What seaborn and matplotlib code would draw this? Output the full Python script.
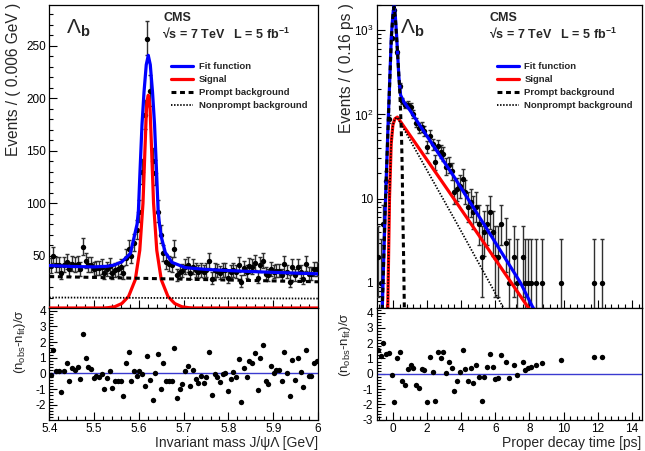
import numpy as np
import pandas as pd
import matplotlib
matplotlib.use("Agg")
import matplotlib.pyplot as plt
import seaborn as sns
from matplotlib.ticker import MultipleLocator, FixedLocator, FixedFormatter, NullFormatter
from matplotlib.lines import Line2D

sns.set_theme(style="ticks")
plt.rcParams["font.family"] = ["Liberation Sans", "DejaVu Sans"]
plt.rcParams["mathtext.fontset"] = "custom"
plt.rcParams["mathtext.rm"] = "Liberation Sans"
plt.rcParams["mathtext.it"] = "Liberation Sans:italic"
plt.rcParams["mathtext.bf"] = "Liberation Sans:bold"
plt.rcParams["axes.unicode_minus"] = False

# ---------------- left: invariant mass ----------------
mass_first_center = 5.403
mass_bin_width = 0.006
mass_counts = [40, 50, 41, 41, 33, 41, 44, 37, 42, 41,
               42, 37, 58, 45, 41, 41, 37, 38, 38, 39,
               33, 37, 40, 33, 36, 37, 39, 33, 48, 56,
               50, 62, 74, 92, 130, 184, 257, 207, 140, 129,
               92, 70, 52, 44, 42, 41, 56, 31, 34, 35,
               39, 41, 33, 39, 36, 34, 36, 34, 36, 45,
               28, 36, 35, 33, 36, 36, 29, 34, 36, 34,
               41, 25, 38, 34, 40, 39, 43, 29, 41, 45,
               32, 31, 37, 34, 35, 35, 31, 42, 34, 25,
               39, 31, 39, 34, 28, 42, 32, 32, 37, 37]
mass_pulls = [-0.1, 1.5, 0.15, 0.15, -1.2, 0.15, 0.65, -0.5, 0.35, 0.2,
              0.4, -0.35, 2.55, 1.0, 0.4, 0.3, -0.3, -0.15, -0.2, -0.05,
              -1.0, -0.3, 0.15, -0.9, -0.5, -0.45, -0.45, -1.45, 0.65, 1.4,
              -0.45, 0.15, -0.15, 0.15, -0.05, -0.8, 1.1, -0.4, -1.7, 0.0,
              1.25, -1.0, 0.7, -0.5, -0.5, -0.5, 1.6, -1.55, -1.0, -0.65,
              0.15, 0.5, -0.8, 0.25, -0.35, -0.6, -0.15, -0.6, -0.25, 1.35,
              -1.4, -0.05, -0.2, -0.55, -0.05, 0.05, -1.15, -0.35, 0.1, -0.2,
              0.9, -1.85, 0.35, -0.2, 0.8, 0.7, 1.3, -1.05, 1.0, 1.8,
              -0.5, -0.7, 0.45, 0.0, 0.2, 0.2, -0.45, 1.4, 0.05, -1.45,
              0.85, -0.4, 1.0, 0.1, -0.85, 1.5, -0.15, -0.15, 0.65, 0.8]

mass_fit_x = [5.400, 5.450, 5.500, 5.530, 5.545, 5.562, 5.581, 5.596, 5.599, 5.6025,
              5.607, 5.6115, 5.6165, 5.621, 5.6255, 5.6305, 5.635, 5.6395, 5.643, 5.646,
              5.650, 5.659, 5.674, 5.704, 5.750, 5.800, 5.850, 5.900, 5.950, 6.000]
mass_fit_y = [40.5, 39.6, 39.2, 39.8, 41, 44, 52, 80, 93, 130,
              175, 206, 232, 241, 232, 206, 175, 130, 93, 80,
              68, 53, 43.5, 38.5, 36.8, 35.7, 34.8, 34.0, 33.3, 32.6]
mass_sig_x = [5.400, 5.521, 5.531, 5.546, 5.562, 5.577, 5.592, 5.602, 5.6092, 5.6135,
              5.617, 5.619, 5.621, 5.623, 5.625, 5.6285, 5.6328, 5.640, 5.650, 5.665,
              5.680, 5.696, 5.711, 5.721, 6.000]
mass_sig_y = [0, 0, 0.3, 1.2, 4.3, 11, 27, 55, 100, 150,
              190, 199, 203, 199, 190, 150, 100, 55, 27, 11,
              4.3, 1.2, 0.3, 0, 0]
mass_prompt_x = [5.4, 6.0]
mass_prompt_y = [30, 25]
mass_nonprompt_x = [5.4, 6.0]
mass_nonprompt_y = [10, 9]

# ---------------- right: proper decay time ----------------
time_first_center = -0.88
time_bin_width = 0.16
time_counts = [2, 1, 5, 16, 89, 800, 1740, 550, 220, 145,
               130, 131, 124, 101, 80, 69, 71, 63, 41, 56,
               44, 27, 42, 36, 34, 24, 25, 21, 12, 13,
               14, 17, 12, 8, 9, 7, 8, 5, 2, 4,
               5, 7, 4, 2, 2, 5, 0, 3, 1, 0,
               2, 1, 0, 2, 1, 1, 1, 0, 1, 0,
               1, 0, 0, 0, 0, 0, 0, 1, 0, 0,
               0, 0, 0, 0, 0, 0, 0, 0, 0, 1,
               0, 0, 1]
nan = float("nan")
time_pulls = [1.55, 1.15, 2.0, 1.3, 1.35, -0.05, -1.85, 1.0, 1.45, -0.45,
              -0.7, 0.3, 0.6, 0.4, -0.7, -0.9, 0.3, 0.25, -1.85, 1.1,
              0.1, -1.75, 1.4, 1.0, 1.4, 0.05, 0.75, 0.4, -1.15, -0.5,
              0.1, 1.55, 0.3, -0.5, 0.35, -0.6, 0.6, -0.2, -1.75, -0.2,
              0.45, 1.3, 0.45, -0.35, -0.25, 1.25, nan, 0.75, -0.25, nan,
              0.55, -0.05, nan, 0.8, 0.25, 0.35, 0.45, nan, 0.6, nan,
              0.7, nan, nan, nan, nan, nan, nan, 0.9, nan, nan,
              nan, nan, nan, nan, nan, nan, nan, nan, nan, 1.1,
              nan, nan, 1.1]

time_fit_x = [-0.75, -0.62, -0.52, -0.43, -0.27, -0.09, 0.0, 0.07, 0.14, 0.22,
              0.35, 0.45, 0.64, 1.0, 1.62, 3.57, 5.52, 7.47, 8.15, 8.5]
time_fit_y = [0.3, 0.5, 2.5, 10, 89, 850, 1550, 1950, 1500, 850,
              280, 170, 141, 112, 72, 18.3, 4.3, 1.0, 0.53, 0.4]
time_prompt_x = [-0.75, -0.62, -0.52, -0.43, -0.27, -0.09, 0.0, 0.07, 0.14, 0.27,
                 0.39, 0.45, 0.51, 0.55, 0.58, 0.63, 0.67, 0.72]
time_prompt_y = [0.3, 0.5, 2.5, 10, 82, 800, 1500, 1900, 1450, 560,
                 210, 110, 50, 20, 6.8, 1.9, 0.5, 0.3]
time_sig_x = [-0.35, -0.30, -0.2, -0.1, 0.0, 0.12, 0.26, 0.45, 3.67, 7.86, 8.2]
time_sig_y = [0.3, 0.5, 10, 45, 75, 89, 93, 82, 9.3, 0.53, 0.42]
time_nonprompt_x = [-0.35, -0.30, -0.2, -0.1, 0.0, 0.12, 0.26, 3.67, 6.3, 6.6]
time_nonprompt_y = [0.3, 0.5, 10, 45, 75, 89, 92, 5.4, 0.58, 0.45]

legend_labels = ["Fit function", "Signal", "Prompt background", "Nonprompt background"]

# ---------------- figure ----------------
W, H = 645, 451
fig = plt.figure(figsize=(W / 100, H / 100), dpi=100)


def box(x0, y0, x1, y1):
    return [x0 / W, 1 - y1 / H, (x1 - x0) / W, (y1 - y0) / H]


axL = fig.add_axes(box(49.3, 5, 318, 308))
axLr = fig.add_axes(box(49.3, 308, 318, 420))
axR = fig.add_axes(box(376.5, 5, 641.5, 308))
axRr = fig.add_axes(box(376.5, 308, 641.5, 420))

BLUE = "#0000ff"
RED = "#ff0000"
PULL_LINE = "#3a3ad0"
LW = 2.3


def draw_data(ax, x, n):
    x = np.asarray(x, float)
    n = np.asarray(n, float)
    m = n > 0
    lo = np.sqrt(n[m] - 0.25)
    hi = np.sqrt(n[m] + 0.75) + 1.0
    ax.errorbar(x[m], n[m], yerr=[lo, hi], fmt="none", ecolor="#303030",
                elinewidth=1.0, capsize=1.6, capthick=1.0, zorder=3)
    sns.scatterplot(x=x[m], y=n[m], ax=ax, color="black", s=15, linewidth=0,
                    zorder=4, legend=False)


def draw_curves(ax, fx, fy, sx, sy, px_, py_, nx, ny):
    sns.lineplot(x=fx, y=fy, ax=ax, color=BLUE, linewidth=LW, estimator=None,
                 sort=False, zorder=5)
    sns.lineplot(x=sx, y=sy, ax=ax, color=RED, linewidth=LW, estimator=None,
                 sort=False, zorder=6)
    sns.lineplot(x=px_, y=py_, ax=ax, color="black", linewidth=2.2, estimator=None,
                 sort=False, zorder=7, linestyle=(0, (1.6, 1.2)))
    sns.lineplot(x=nx, y=ny, ax=ax, color="black", linewidth=1.3, estimator=None,
                 sort=False, zorder=7, linestyle=(0, (0.8, 0.9)))


def legend(ax):
    handles = [Line2D([], [], color=BLUE, lw=LW),
               Line2D([], [], color=RED, lw=LW),
               Line2D([], [], color="black", lw=2.2, linestyle=(0, (1.6, 1.2))),
               Line2D([], [], color="black", lw=1.3, linestyle=(0, (0.8, 0.9)))]
    ax.legend(handles, legend_labels, loc="upper left", bbox_to_anchor=(0.453, 0.812),
              frameon=False, prop={"size": 6.8, "weight": "bold"}, handlelength=2.35,
              handletextpad=0.6, labelspacing=0.42, borderpad=0, borderaxespad=0)


def style(ax):
    for s in ax.spines.values():
        s.set_color("black")
        s.set_linewidth(0.9)
    ax.tick_params(axis="both", which="both", direction="in", top=False, right=False,
                   colors="black", labelsize=8.5, width=0.8, pad=2.5)
    ax.tick_params(which="major", length=5.5)
    ax.tick_params(which="minor", length=2.8)
    ax.set_xlabel("")
    ax.set_ylabel("")
    ax.grid(False)
    ax.set_facecolor("white")


# left main
mass_x = mass_first_center + mass_bin_width * np.arange(len(mass_counts))
draw_data(axL, mass_x, mass_counts)
draw_curves(axL, mass_fit_x, mass_fit_y, mass_sig_x, mass_sig_y,
            mass_prompt_x, mass_prompt_y, mass_nonprompt_x, mass_nonprompt_y)
axL.set_xlim(5.4, 6.0)
axL.set_ylim(0, 289)
axL.yaxis.set_major_locator(FixedLocator([50, 100, 150, 200, 250]))
axL.yaxis.set_minor_locator(MultipleLocator(10))
axL.xaxis.set_major_locator(MultipleLocator(0.1))
axL.xaxis.set_minor_locator(MultipleLocator(0.02))
style(axL)
axL.tick_params(axis="x", labelbottom=False)
legend(axL)

# left pulls
sns.scatterplot(x=mass_x, y=mass_pulls, ax=axLr, color="black", s=15, linewidth=0,
                zorder=4, legend=False)
axLr.axhline(0, color=PULL_LINE, lw=1.0, zorder=2)
axLr.set_xlim(5.4, 6.0)
axLr.set_ylim(-2.97, 4.18)
axLr.yaxis.set_major_locator(FixedLocator([-2, -1, 0, 1, 2, 3, 4]))
axLr.yaxis.set_minor_locator(MultipleLocator(0.2))
axLr.xaxis.set_minor_locator(MultipleLocator(0.02))
style(axLr)
axLr.set_xticks([5.4, 5.5, 5.6, 5.7, 5.8, 5.9, 6.0])
axLr.set_xticklabels(["5.4", "5.5", "5.6", "5.7", "5.8", "5.9", "6"])

# right main
time_x = time_first_center + time_bin_width * np.arange(len(time_counts))
axR.set_yscale("log")
draw_data(axR, time_x, time_counts)
draw_curves(axR, time_fit_x, time_fit_y, time_sig_x, time_sig_y,
            time_prompt_x, time_prompt_y, time_nonprompt_x, time_nonprompt_y)
axR.set_xlim(-0.96, 14.56)
axR.set_ylim(0.5, 2000)
axR.yaxis.set_major_locator(FixedLocator([1, 10, 100, 1000]))
axR.yaxis.set_major_formatter(FixedFormatter(["1", "10", "10$^{2}$", "10$^{3}$"]))
minors = [m * 10 ** e for e in range(-1, 4) for m in range(2, 10)]
axR.yaxis.set_minor_locator(FixedLocator(minors))
axR.yaxis.set_minor_formatter(NullFormatter())
axR.xaxis.set_major_locator(MultipleLocator(2))
axR.xaxis.set_minor_locator(MultipleLocator(0.4))
style(axR)
axR.tick_params(axis="x", labelbottom=False)
legend(axR)

# right pulls
tm = ~np.isnan(np.asarray(time_pulls))
sns.scatterplot(x=time_x[tm], y=np.asarray(time_pulls)[tm], ax=axRr, color="black",
                s=15, linewidth=0, zorder=4, legend=False)
axRr.axhline(0, color=PULL_LINE, lw=1.0, zorder=2)
axRr.set_xlim(-0.96, 14.56)
axRr.set_ylim(-3.02, 4.3)
axRr.yaxis.set_major_locator(FixedLocator([-3, -2, -1, 0, 1, 2, 3, 4]))
axRr.yaxis.set_minor_locator(MultipleLocator(0.2))
axRr.xaxis.set_major_locator(MultipleLocator(2))
axRr.xaxis.set_minor_locator(MultipleLocator(0.4))
style(axRr)

# ---------------- texts ----------------
def ftext(x, y, s, **kw):
    fig.text(x / W, 1 - y / H, s, **kw)


ftext(14, 3, "Events / ( 0.006 GeV )", rotation=90, ha="center", va="top", fontsize=11.2)
ftext(346, 3, "Events / ( 0.16 ps )", rotation=90, ha="center", va="top", fontsize=11.2)
ftext(20, 309, "(n$_{\\rm obs}$-n$_{\\rm fit}$)/σ", rotation=90, ha="center", va="top", fontsize=9.5)
ftext(345, 312, "(n$_{\\rm obs}$-n$_{\\rm fit}$)/σ", rotation=90, ha="center", va="top", fontsize=9.5)
ftext(318, 443.5, "Invariant mass J/ψΛ [GeV]", ha="right", va="center", fontsize=10)
ftext(641, 443, "Proper decay time [ps]", ha="right", va="center", fontsize=10)

for x0, xl in [(163, 66), (490, 400)]:
    ftext(x0, 18, "CMS", ha="left", va="center", fontsize=9, weight="bold")
    ftext(x0 - 1, 34, "√s = 7 TeV   L = 5 fb$^{\\mathbf{-1}}$", ha="left", va="center",
          fontsize=9, weight="bold")
    ftext(xl, 28, "$\\Lambda_{\\mathbf{b}}$", ha="left", va="center", fontsize=15)

fig.savefig("out.png", dpi=100)
